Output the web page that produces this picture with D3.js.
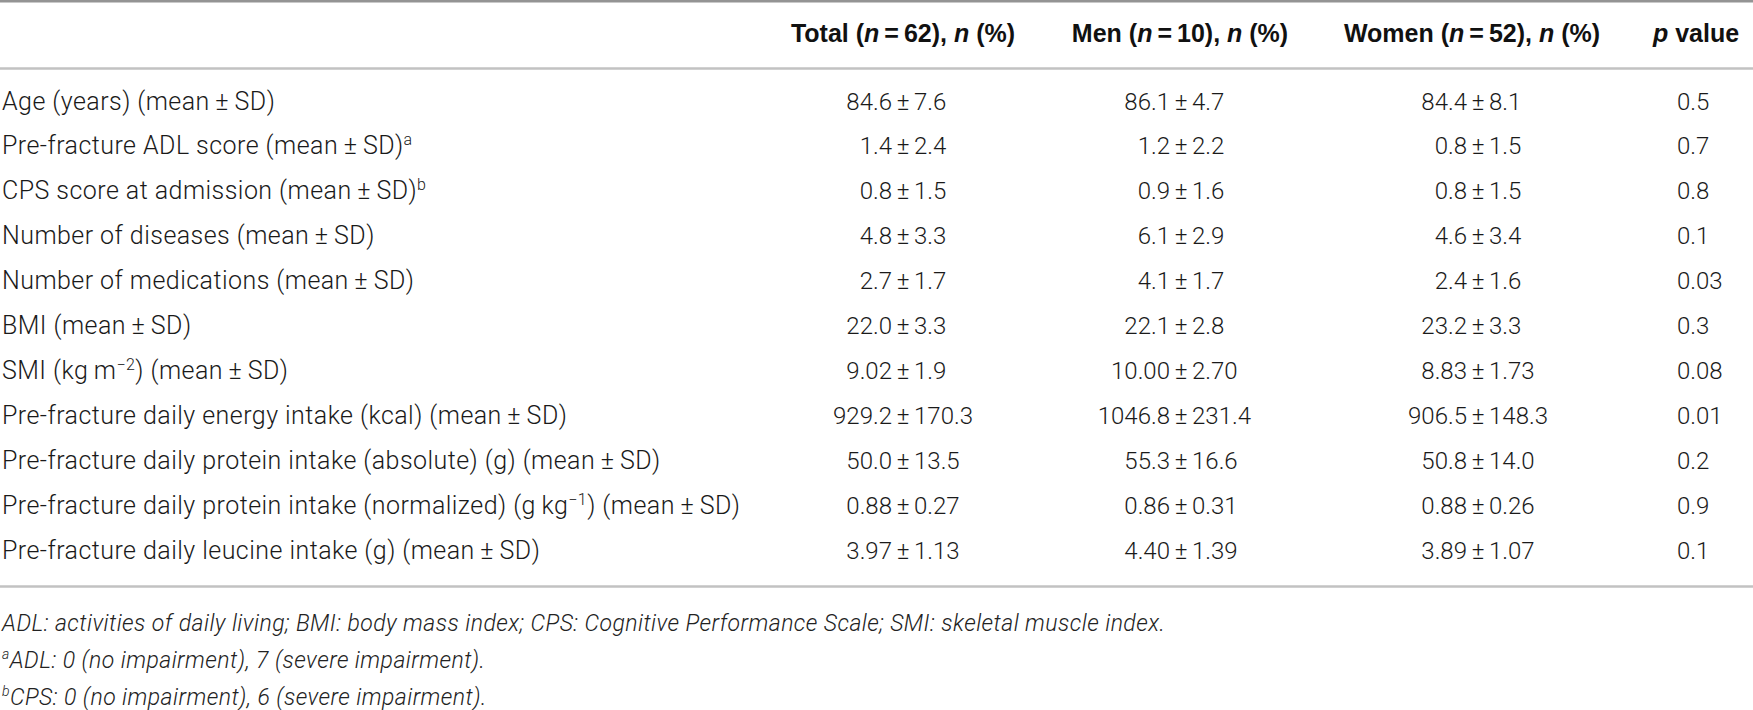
<!DOCTYPE html>
<html>
<head>
<meta charset="utf-8">
<script src="https://cdn.jsdelivr.net/npm/d3@7"></script>
<style>
  body { margin: 0; background: #fff; }
  svg { display: block; }
  .body { font-family: Roboto, "Liberation Sans", sans-serif; font-weight: 300; font-size: 24px; fill: #1a1a1a; }
  .label { font-size: 25px; letter-spacing: 0.45px; }
  .head { font-family: "Liberation Sans", Arial, sans-serif; font-weight: 700; font-size: 25px; fill: #111; }
  .note { font-family: Roboto, "Liberation Sans", sans-serif; font-weight: 300; font-style: italic; font-size: 23px; letter-spacing: 0.45px; fill: #222; }
</style>
</head>
<body>
<div id="table"></div>
<script>
// ^{..} marks a superscript, _{..} marks italic
var headers = ['Total (_{n}\u2009=\u200962), _{n} (%)', 'Men (_{n}\u2009=\u200910), _{n} (%)',
  'Women (_{n}\u2009=\u200952), _{n} (%)', '_{p} value'];

var rowLabels = [
  'Age (years) (mean\u2009±\u2009SD)',
  'Pre-fracture ADL score (mean\u2009±\u2009SD)^{a}',
  'CPS score at admission (mean\u2009±\u2009SD)^{b}',
  'Number of diseases (mean\u2009±\u2009SD)',
  'Number of medications (mean\u2009±\u2009SD)',
  'BMI (mean\u2009±\u2009SD)',
  'SMI (kg\u2009m^{\u22122}) (mean\u2009±\u2009SD)',
  'Pre-fracture daily energy intake (kcal) (mean\u2009±\u2009SD)',
  'Pre-fracture daily protein intake (absolute) (g) (mean\u2009±\u2009SD)',
  'Pre-fracture daily protein intake (normalized) (g\u2009kg^{\u22121}) (mean\u2009±\u2009SD)',
  'Pre-fracture daily leucine intake (g) (mean\u2009±\u2009SD)'
];

var totalMean = ['84.6', '1.4', '0.8', '4.8', '2.7', '22.0', '9.02', '929.2', '50.0', '0.88', '3.97'];
var totalSD   = ['7.6', '2.4', '1.5', '3.3', '1.7', '3.3', '1.9', '170.3', '13.5', '0.27', '1.13'];
var menMean   = ['86.1', '1.2', '0.9', '6.1', '4.1', '22.1', '10.00', '1046.8', '55.3', '0.86', '4.40'];
var menSD     = ['4.7', '2.2', '1.6', '2.9', '1.7', '2.8', '2.70', '231.4', '16.6', '0.31', '1.39'];
var womenMean = ['84.4', '0.8', '0.8', '4.6', '2.4', '23.2', '8.83', '906.5', '50.8', '0.88', '3.89'];
var womenSD   = ['8.1', '1.5', '1.5', '3.4', '1.6', '3.3', '1.73', '148.3', '14.0', '0.26', '1.07'];
var pValues   = ['0.5', '0.7', '0.8', '0.1', '0.03', '0.3', '0.08', '0.01', '0.2', '0.9', '0.1'];

var footnotes = [
  'ADL: activities of daily living; BMI: body mass index; CPS: Cognitive Performance Scale; SMI: skeletal muscle index.',
  '^{a}ADL: 0 (no impairment), 7 (severe impairment).',
  '^{b}CPS: 0 (no impairment), 6 (severe impairment).'
];

var width = 1753,
  height = 710,
  y = d3.scaleLinear().domain([0, rowLabels.length - 1]).range([101, 550]),
  yNote = d3.scaleLinear().domain([0, footnotes.length - 1]).range([623, 697]),
  headX = d3.scaleOrdinal().domain(d3.range(4)).range([903, 1180, 1472, 1696]),
  pmX = d3.scaleOrdinal().domain(['total', 'men', 'women']).range([903, 1181, 1478]),
  pX = 1677;

var columns = [
  {key: 'total', mean: totalMean, sd: totalSD},
  {key: 'men', mean: menMean, sd: menSD},
  {key: 'women', mean: womenMean, sd: womenSD}
];

var svg = d3.select('#table').append('svg')
  .attr('width', width).attr('height', height);

// rules
svg.append('line').attr('x1', 0).attr('x2', width).attr('y1', 1.2).attr('y2', 1.2)
  .style('stroke', '#949494').style('stroke-width', 2.4);
svg.selectAll('line.rule')
  .data([68.5, 586.5])
  .enter().append('line')
  .attr('class', 'rule')
  .attr('x1', 0).attr('x2', width)
  .attr('y1', function (d) { return d; })
  .attr('y2', function (d) { return d; })
  .style('stroke', '#c2c2c2').style('stroke-width', 2.4);

// write a string with ^{} superscripts and _{} italics as tspans
function rich(sel, str, supSize) {
  var parts = str.split(/(\^\{[^}]*\}|_\{[^}]*\})/).filter(function (s) { return s.length; });
  var shifted = false;
  parts.forEach(function (p) {
    var t = sel.append('tspan');
    if (p[0] === '^') {
      t.text(p.slice(2, -1)).attr('dy', -9).style('font-size', supSize + 'px');
      shifted = true;
    } else {
      if (shifted) { t.attr('dy', 9); shifted = false; }
      if (p[0] === '_') t.text(p.slice(2, -1)).style('font-style', 'italic');
      else t.text(p);
    }
  });
}

// header
svg.append('g').selectAll('text')
  .data(headers)
  .enter().append('text')
  .attr('class', 'head')
  .attr('x', function (d, i) { return headX(i); })
  .attr('y', 42)
  .attr('text-anchor', 'middle')
  .each(function (d) { rich(d3.select(this), d, 16); });

// row labels
svg.append('g').selectAll('text')
  .data(rowLabels)
  .enter().append('text')
  .attr('class', 'body label')
  .attr('x', 2)
  .attr('y', function (d, i) { return y(i) + 8.5; })
  .each(function (d) { rich(d3.select(this), d, 16); });

// mean ± SD columns, aligned on the ± sign
columns.forEach(function (col) {
  var g = svg.append('g').attr('class', 'body');
  var cx = pmX(col.key);
  g.selectAll('text.mean').data(col.mean).enter().append('text')
    .attr('class', 'mean')
    .attr('x', cx - 11).attr('y', function (d, i) { return y(i) + 8.5; })
    .attr('text-anchor', 'end').text(function (d) { return d; });
  g.selectAll('text.pm').data(col.mean).enter().append('text')
    .attr('class', 'pm')
    .attr('x', cx).attr('y', function (d, i) { return y(i) + 8.5; })
    .attr('text-anchor', 'middle').text('±');
  g.selectAll('text.sd').data(col.sd).enter().append('text')
    .attr('class', 'sd')
    .attr('x', cx + 11).attr('y', function (d, i) { return y(i) + 8.5; })
    .attr('text-anchor', 'start').text(function (d) { return d; });
});

// p values
svg.append('g').attr('class', 'body').selectAll('text')
  .data(pValues)
  .enter().append('text')
  .attr('x', pX)
  .attr('y', function (d, i) { return y(i) + 8.5; })
  .text(function (d) { return d; });

// footnotes
svg.append('g').selectAll('text')
  .data(footnotes)
  .enter().append('text')
  .attr('class', 'note')
  .attr('x', 2)
  .attr('y', function (d, i) { return yNote(i) + 8; })
  .each(function (d) { rich(d3.select(this), d, 14); });
</script>
</body>
</html>
